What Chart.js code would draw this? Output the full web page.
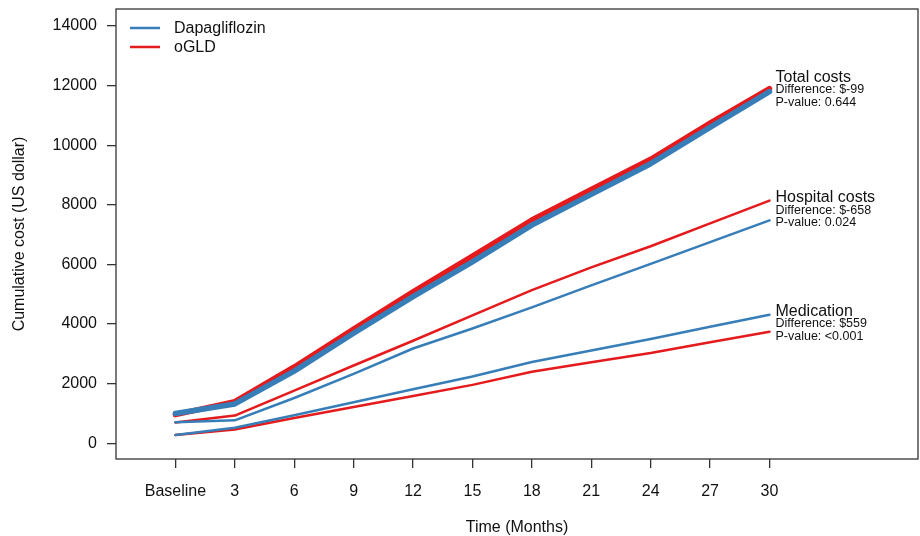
<!DOCTYPE html>
<html>
<head>
<meta charset="utf-8">
<script src="https://cdn.jsdelivr.net/npm/chart.js@4.4.1/dist/chart.umd.min.js"></script>
<style>
  html, body { margin: 0; padding: 0; background: #fff; }
  #wrap { width: 920px; height: 536px; }
</style>
</head>
<body>
<div id="wrap"><canvas id="myChart" width="920" height="536"></canvas></div>
<script>
// months of follow-up (0 = baseline)
const months = [0, 3, 6, 9, 12, 15, 18, 21, 24, 27, 30];
const xTickLabels = ['Baseline', '3', '6', '9', '12', '15', '18', '21', '24', '27', '30'];
const yTicks = [0, 2000, 4000, 6000, 8000, 10000, 12000, 14000];

// cumulative costs (US dollar)
const totalDapa = [1000, 1320, 2420, 3690, 4920, 6090, 7320, 8350, 9380, 10600, 11800];
const totalOgld = [960, 1395, 2560, 3830, 5080, 6280, 7490, 8520, 9530, 10740, 11900];
const hospDapa = [710, 770, 1520, 2330, 3180, 3850, 4560, 5300, 6020, 6750, 7480];
const hospOgld = [700, 930, 1770, 2610, 3440, 4290, 5140, 5900, 6610, 7380, 8140];
const medDapa = [280, 520, 940, 1380, 1810, 2240, 2730, 3110, 3500, 3910, 4310];
const medOgld = [275, 465, 850, 1220, 1590, 1960, 2400, 2720, 3030, 3390, 3740];

const groups = ['Total costs', 'Hospital costs', 'Medication'];
const differences = ['Difference: $-99', 'Difference: $-658', 'Difference: $559'];
const pValues = ['P-value: 0.644', 'P-value: 0.024', 'P-value: <0.001'];
const labelY = [12280, 8250, 4430];

const blue = '#377EB8';
const red = '#E41A1C';
const font = "'Liberation Sans', Arial, sans-serif";

function pts(arr) {
  return months.map((m, i) => ({ x: m, y: arr[i] }));
}

const extras = {
  id: 'extras',
  afterDraw(chart) {
    const c = chart.ctx;
    const ca = chart.chartArea;
    const xs = chart.scales.x, ys = chart.scales.y;
    c.save();
    // box
    c.strokeStyle = '#333';
    c.lineWidth = 1.3;
    c.strokeRect(ca.left, ca.top, ca.right - ca.left, ca.bottom - ca.top);

    // legend
    const leg = [['Dapagliflozin', blue], ['oGLD', red]];
    c.font = '16px ' + font;
    c.textBaseline = 'middle';
    c.textAlign = 'left';
    leg.forEach((l, i) => {
      const y = ca.top + 19 + i * 19;
      c.strokeStyle = l[1];
      c.lineWidth = 2.5;
      c.beginPath();
      c.moveTo(ca.left + 14, y);
      c.lineTo(ca.left + 44, y);
      c.stroke();
      c.fillStyle = '#111';
      c.fillText(l[0], ca.left + 58, y + 1);
    });

    // group labels at the end of the lines
    const lx = xs.getPixelForValue(30) + 6;
    groups.forEach((g, i) => {
      const y = ys.getPixelForValue(labelY[i]);
      c.fillStyle = '#111';
      c.font = '16px ' + font;
      c.fillText(g, lx, y);
      c.font = '12.5px ' + font;
      c.fillText(differences[i], lx, y + 12.7);
      c.fillText(pValues[i], lx, y + 25.4);
    });

    // axis titles
    c.font = '16px ' + font;
    c.textAlign = 'center';
    c.fillText('Time (Months)', (ca.left + ca.right) / 2, 528);
    c.translate(20, (ca.top + ca.bottom) / 2);
    c.rotate(-Math.PI / 2);
    c.fillText('Cumulative cost (US dollar)', 0, 0);
    c.restore();
  }
};

const ctx = document.getElementById('myChart');

let myChart = new Chart(ctx, {
  type: 'line',
  data: {
    datasets: [
      { label: 'Dapagliflozin', data: pts(totalDapa), borderColor: blue, borderWidth: 5.5 },
      { label: 'oGLD', data: pts(totalOgld), borderColor: red, borderWidth: 5.5 },
      { label: 'Dapagliflozin', data: pts(hospDapa), borderColor: blue, borderWidth: 2.5 },
      { label: 'oGLD', data: pts(hospOgld), borderColor: red, borderWidth: 2.5 },
      { label: 'Dapagliflozin', data: pts(medDapa), borderColor: blue, borderWidth: 2.5 },
      { label: 'oGLD', data: pts(medOgld), borderColor: red, borderWidth: 2.5 }
    ]
  },
  options: {
    responsive: false,
    animation: false,
    layout: { padding: { left: 0, right: 2, top: 9, bottom: 0 } },
    elements: {
      point: { radius: 0 },
      line: { tension: 0, borderCapStyle: 'round', borderJoinStyle: 'round' }
    },
    plugins: {
      legend: { display: false },
      tooltip: { enabled: false }
    },
    scales: {
      x: {
        type: 'linear',
        min: -3,
        max: 37.5,
        afterBuildTicks: (s) => { s.ticks = months.map(v => ({ value: v })); },
        afterFit: (s) => { s.height = 77; s.paddingLeft = 0; s.paddingRight = 0; },
        grid: { display: true, drawOnChartArea: false, drawTicks: true, tickLength: 9, color: '#333', lineWidth: 1.3 },
        border: { display: false },
        ticks: {
          color: '#111',
          font: { family: font, size: 16 },
          padding: 14,
          maxRotation: 0,
          autoSkip: false,
          callback: (v) => xTickLabels[months.indexOf(v)]
        }
      },
      y: {
        min: -527,
        max: 14570,
        afterBuildTicks: (s) => { s.ticks = yTicks.map(v => ({ value: v })); },
        afterFit: (s) => { s.width = 116; s.paddingTop = 0; s.paddingBottom = 0; },
        grid: { display: true, drawOnChartArea: false, drawTicks: true, tickLength: 9, color: '#333', lineWidth: 1.3 },
        border: { display: false },
        ticks: {
          color: '#111',
          font: { family: font, size: 16 },
          padding: 10,
          autoSkip: false,
          callback: (v) => String(v)
        }
      }
    }
  },
  plugins: [extras]
});
</script>
</body>
</html>
